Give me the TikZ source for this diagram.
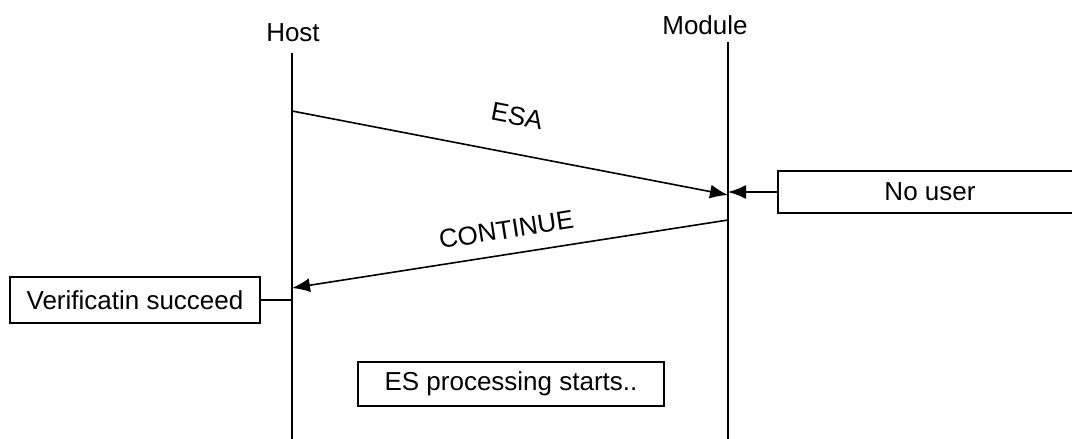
\documentclass[tikz,border=0pt]{standalone}
\usepackage{fontspec}
\setmainfont{Liberation Sans}
\usetikzlibrary{arrows.meta}

\tikzset{
  lbl/.style={font=\fontsize{13}{15}\selectfont},
  msgbox/.style={draw, line width=0.9pt, inner sep=0pt, lbl},
  lifeline/.style={line width=1pt},
  msg/.style={line width=0.8pt, -{Latex[length=9pt,width=7pt]}}
}

\begin{document}
\begin{tikzpicture}[x=0.5pt,y=-0.5pt]
\useasboundingbox (0,0) rectangle (1072,439);

  % the two parties and their lifelines
  \node[lbl] (host) at (293,33) {Host};
  \node[lbl] (module) at (705,25) {Module};
  \coordinate (hostTop) at (292,53);
  \coordinate (hostEnd) at (292,439);
  \coordinate (modTop) at (728,42);
  \coordinate (modEnd) at (728,439);
  \draw[lifeline] (hostTop) -- (hostEnd);
  \draw[lifeline] (modTop) -- (modEnd);

  % messages
  \coordinate (esaA) at (292,111);
  \coordinate (esaB) at (728,195);
  \coordinate (contA) at (728,220);
  \coordinate (contB) at (292,288);
  \draw[msg] (esaA) -- node[lbl, sloped, above=10.5pt] {ESA} (esaB);
  \draw[msg] (contA) -- node[lbl, sloped, above=4pt] {CONTINUE} (contB);

  % notes
  \node[msgbox, minimum width=152pt, minimum height=21pt] (nouser) at (930,192) {No user};
  \node[msgbox, minimum width=125pt, minimum height=23pt] (verif) at (135,300) {Verificatin succeed};
  \node[msgbox, minimum width=153pt, minimum height=22pt] (esproc) at (511,384) {ES processing starts..};
  \draw[msg] (nouser.west) -- (nouser.west -| modTop);
  \draw[line width=0.6pt] (verif.east) -- (verif.east -| hostTop);

\end{tikzpicture}
\end{document}
